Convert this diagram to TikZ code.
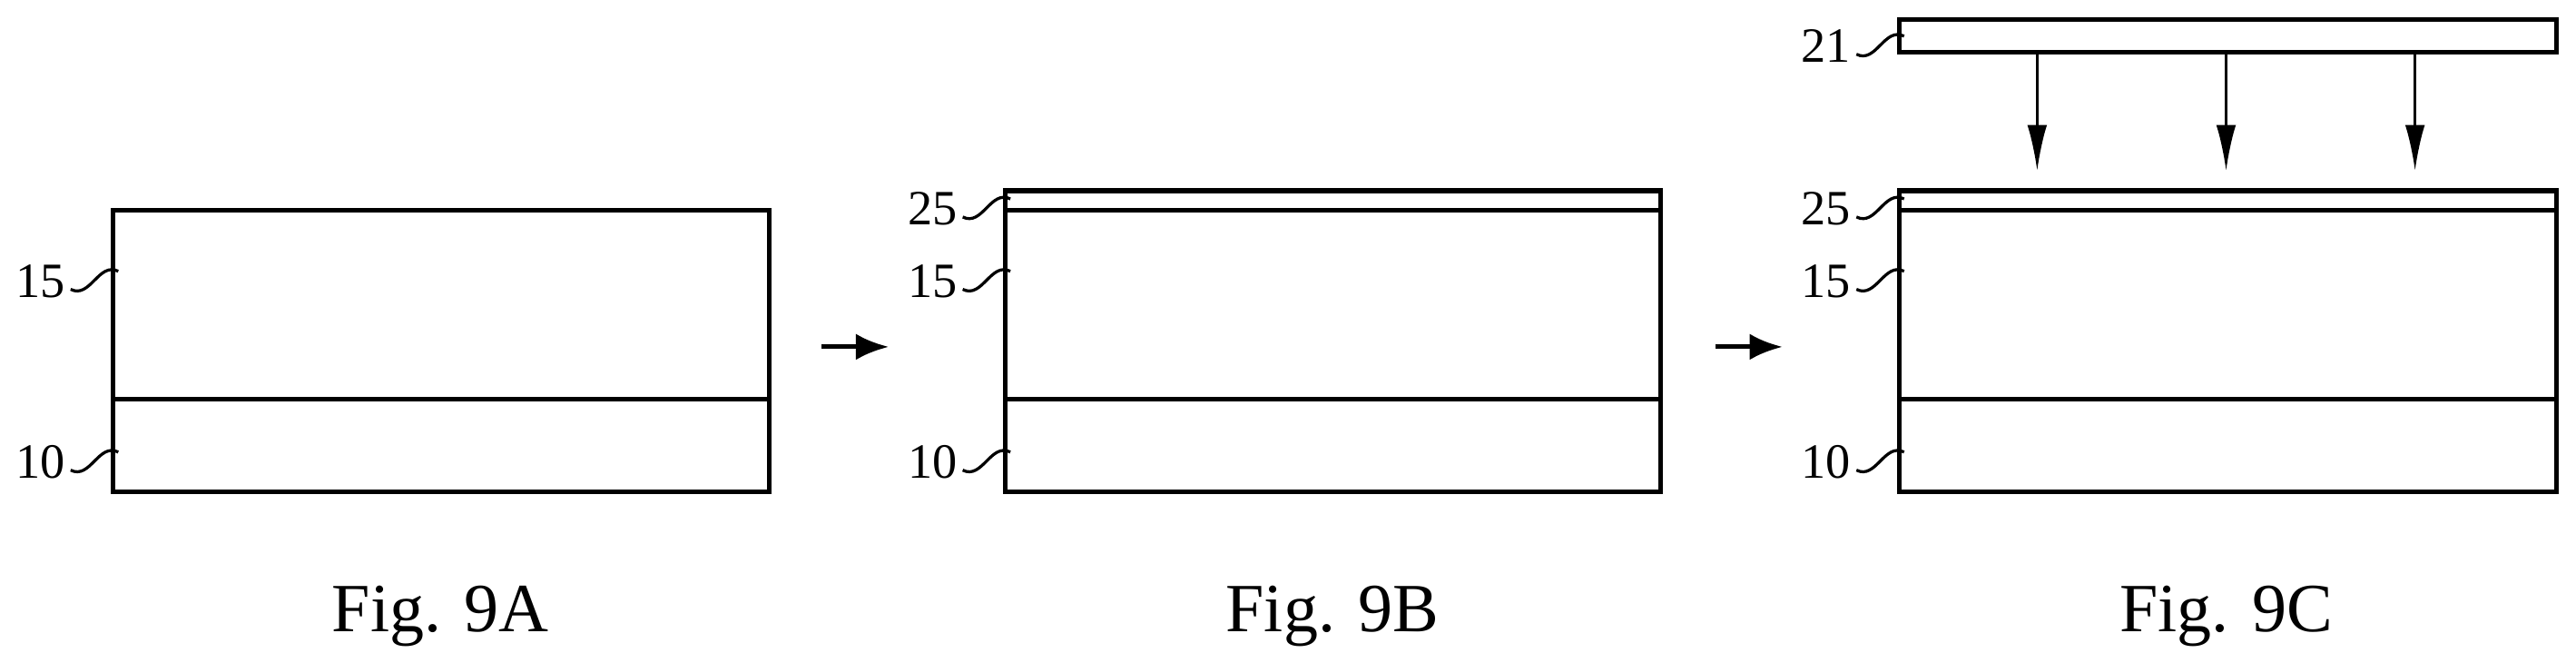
\documentclass[tikz,border=0pt]{standalone}
\usepackage{fontspec}
\setmainfont{Liberation Serif}
\usetikzlibrary{arrows.meta}
\tikzset{
  layer/.style={draw, line width=1.4pt},
  lbl/.style={font=\fontsize{15}{15}\selectfont, inner sep=0pt, anchor=east},
  figcap/.style={font=\fontsize{21}{21}\selectfont},
  lead/.style={line width=0.9pt},
  flow/.style={line width=1.4pt, -{Latex[length=10pt,width=8pt]}},
  ray/.style={line width=0.9pt, -{Latex[length=14pt,width=6pt]}}
}
\begin{document}
\begin{tikzpicture}[x=0.5pt,y=-0.5pt]
        \useasboundingbox (0,0) rectangle (1568,403);

        %Fig. 9A
        \draw[layer] (69,128) rectangle (468,299);
        \draw[layer] (69,243) -- (468,243);
        \node[lbl] (a15) at (40,171) {15};
        \node[lbl] (a10) at (40,281) {10};
        \draw[lead] (a15.east) ++(3,5) .. controls +(12,6) and +(-12,-6) .. (72,165);
        \draw[lead] (a10.east) ++(3,5) .. controls +(12,6) and +(-12,-6) .. (72,275);
        \node[figcap] (capA) at (268,375) {Fig. 9A};

        %arrow
        \coordinate (fa) at (500,211);
        \coordinate (fb) at (541,211);
        \draw[flow] (fa) -- (fb);

        %Fig. 9B
        \draw[layer] (612,116) rectangle (1011,299);
        \draw[layer] (612,128) -- (1011,128);
        \draw[layer] (612,243) -- (1011,243);
        \node[lbl] (b25) at (583,127) {25};
        \node[lbl] (b15) at (583,171) {15};
        \node[lbl] (b10) at (583,281) {10};
        \draw[lead] (b25.east) ++(3,5) .. controls +(12,6) and +(-12,-6) .. (615,121);
        \draw[lead] (b15.east) ++(3,5) .. controls +(12,6) and +(-12,-6) .. (615,165);
        \draw[lead] (b10.east) ++(3,5) .. controls +(12,6) and +(-12,-6) .. (615,275);
        \node[figcap] (capB) at (811,375) {Fig. 9B};

        %arrow
        \coordinate (fc) at (1044,211);
        \coordinate (fd) at (1085,211);
        \draw[flow] (fc) -- (fd);

        %Fig. 9C
        \draw[layer] (1156,116) rectangle (1556,299);
        \draw[layer] (1156,128) -- (1556,128);
        \draw[layer] (1156,243) -- (1556,243);
        \draw[layer] (1156,12) rectangle (1556,32);
        \node[lbl] (c21) at (1127,28) {21};
        \node[lbl] (c25) at (1127,127) {25};
        \node[lbl] (c15) at (1127,171) {15};
        \node[lbl] (c10) at (1127,281) {10};
        \draw[lead] (c21.east) ++(3,5) .. controls +(12,6) and +(-12,-6) .. (1159,22);
        \draw[lead] (c25.east) ++(3,5) .. controls +(12,6) and +(-12,-6) .. (1159,121);
        \draw[lead] (c15.east) ++(3,5) .. controls +(12,6) and +(-12,-6) .. (1159,165);
        \draw[lead] (c10.east) ++(3,5) .. controls +(12,6) and +(-12,-6) .. (1159,275);
        \foreach \x in {1240,1355,1470}
          \draw[ray] (\x,33) -- (\x,104);
        \node[figcap] (capC) at (1355,375) {Fig. 9C};

\end{tikzpicture}
\end{document}
